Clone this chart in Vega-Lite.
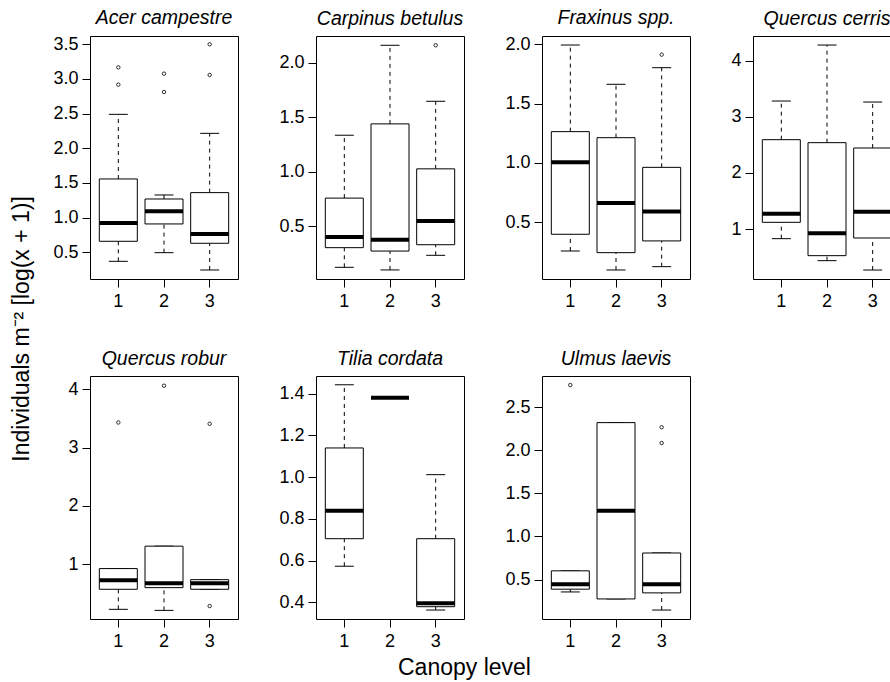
{
  "$schema": "https://vega.github.io/schema/vega-lite/v6.json",
  "padding": {"left": 11, "top": 7, "right": 0, "bottom": 4},
  "title": {"text": "Canopy level", "orient": "bottom", "anchor": "middle", "fontSize": 23, "offset": 6, "dx": 8},
  "datasets": {
    "rows": [
      {"sp": "Acer campestre", "level": 1, "lo": 0.37, "q1": 0.659, "med": 0.923, "q3": 1.558, "hi": 2.49},
      {"sp": "Acer campestre", "level": 1, "out": 3.168},
      {"sp": "Acer campestre", "level": 1, "out": 2.918},
      {"sp": "Acer campestre", "level": 2, "lo": 0.495, "q1": 0.909, "med": 1.091, "q3": 1.269, "hi": 1.327},
      {"sp": "Acer campestre", "level": 2, "out": 3.077},
      {"sp": "Acer campestre", "level": 2, "out": 2.812},
      {"sp": "Acer campestre", "level": 3, "lo": 0.245, "q1": 0.63, "med": 0.764, "q3": 1.361, "hi": 2.216},
      {"sp": "Acer campestre", "level": 3, "out": 3.5},
      {"sp": "Acer campestre", "level": 3, "out": 3.058},
      {"sp": "Carpinus betulus", "level": 1, "lo": 0.125, "q1": 0.305, "med": 0.402, "q3": 0.759, "hi": 1.335},
      {"sp": "Carpinus betulus", "level": 2, "lo": 0.101, "q1": 0.274, "med": 0.378, "q3": 1.439, "hi": 2.159},
      {"sp": "Carpinus betulus", "level": 3, "lo": 0.235, "q1": 0.332, "med": 0.549, "q3": 1.027, "hi": 1.646},
      {"sp": "Carpinus betulus", "level": 3, "out": 2.159},
      {"sp": "Fraxinus spp.", "level": 1, "lo": 0.258, "q1": 0.399, "med": 1.006, "q3": 1.264, "hi": 1.994},
      {"sp": "Fraxinus spp.", "level": 2, "lo": 0.098, "q1": 0.244, "med": 0.663, "q3": 1.213, "hi": 1.663},
      {"sp": "Fraxinus spp.", "level": 3, "lo": 0.126, "q1": 0.343, "med": 0.59, "q3": 0.963, "hi": 1.803},
      {"sp": "Fraxinus spp.", "level": 3, "out": 1.913},
      {"sp": "Quercus cerris", "level": 1, "lo": 0.828, "q1": 1.119, "med": 1.273, "q3": 2.592, "hi": 3.281},
      {"sp": "Quercus cerris", "level": 2, "lo": 0.436, "q1": 0.525, "med": 0.923, "q3": 2.539, "hi": 4.279},
      {"sp": "Quercus cerris", "level": 3, "lo": 0.269, "q1": 0.84, "med": 1.309, "q3": 2.444, "hi": 3.263},
      {"sp": "Quercus robur", "level": 1, "lo": 0.226, "q1": 0.57, "med": 0.725, "q3": 0.925, "hi": 0.925},
      {"sp": "Quercus robur", "level": 1, "out": 3.432},
      {"sp": "Quercus robur", "level": 2, "lo": 0.208, "q1": 0.598, "med": 0.673, "q3": 1.31, "hi": 1.31},
      {"sp": "Quercus robur", "level": 2, "out": 4.063},
      {"sp": "Quercus robur", "level": 3, "lo": 0.57, "q1": 0.57, "med": 0.673, "q3": 0.735, "hi": 0.735},
      {"sp": "Quercus robur", "level": 3, "out": 3.41},
      {"sp": "Quercus robur", "level": 3, "out": 0.282},
      {"sp": "Tilia cordata", "level": 1, "lo": 0.573, "q1": 0.705, "med": 0.839, "q3": 1.14, "hi": 1.443},
      {"sp": "Tilia cordata", "level": 2, "lo": 1.381, "q1": 1.381, "med": 1.381, "q3": 1.381, "hi": 1.381},
      {"sp": "Tilia cordata", "level": 3, "lo": 0.363, "q1": 0.379, "med": 0.395, "q3": 0.705, "hi": 1.012},
      {"sp": "Ulmus laevis", "level": 1, "lo": 0.356, "q1": 0.388, "med": 0.446, "q3": 0.601, "hi": 0.601},
      {"sp": "Ulmus laevis", "level": 1, "out": 2.757},
      {"sp": "Ulmus laevis", "level": 2, "lo": 0.275, "q1": 0.275, "med": 1.298, "q3": 2.321, "hi": 2.321},
      {"sp": "Ulmus laevis", "level": 3, "lo": 0.146, "q1": 0.345, "med": 0.446, "q3": 0.808, "hi": 0.808},
      {"sp": "Ulmus laevis", "level": 3, "out": 2.267},
      {"sp": "Ulmus laevis", "level": 3, "out": 2.084}
    ]
  },
  "vconcat": [
    {
      "title": {"text": "Individuals m⁻² [log(x + 1)]", "orient": "left", "anchor": "middle", "fontSize": 23, "offset": 18},
      "columns": 4,
      "spacing": {"row": 37, "column": 39},
      "align": "each",
      "concat": [
        {
          "title": {"text": "Acer campestre", "fontStyle": "italic", "fontSize": 19.5, "anchor": "middle", "frame": "group", "offset": 7},
          "width": 148, "height": 243,
          "data": {"name": "rows"},
          "transform": [{"filter": {"field": "sp", "equal": "Acer campestre"}}],
          "encoding": {"x": {"field": "level", "type": "ordinal", "title": null, "scale": {"paddingInner": 0, "paddingOuter": 0.12}}},
          "layer": [
            {"mark": {"type": "rule", "strokeDash": [4, 4], "color": "black"}, "encoding": {"y": {"field": "q3", "type": "quantitative", "title": null, "scale": {"domain": [0.115, 3.62], "nice": false, "zero": false}, "axis": {"values": [0.5, 1, 1.5, 2, 2.5, 3, 3.5], "format": ".1f"}}, "y2": {"field": "hi"}}},
            {"mark": {"type": "rule", "strokeDash": [4, 4], "color": "black"}, "encoding": {"y": {"field": "lo", "type": "quantitative", "title": null}, "y2": {"field": "q1"}}},
            {"mark": {"type": "tick", "size": 19, "thickness": 1, "color": "black", "opacity": 1}, "encoding": {"y": {"field": "hi", "type": "quantitative", "title": null}}},
            {"mark": {"type": "tick", "size": 19, "thickness": 1, "color": "black", "opacity": 1}, "encoding": {"y": {"field": "lo", "type": "quantitative", "title": null}}},
            {"mark": {"type": "bar", "width": 38, "fill": "white", "stroke": "black", "strokeWidth": 1}, "encoding": {"y": {"field": "q1", "type": "quantitative", "title": null}, "y2": {"field": "q3"}}},
            {"mark": {"type": "tick", "size": 38, "thickness": 4, "color": "black", "opacity": 1}, "encoding": {"y": {"field": "med", "type": "quantitative", "title": null}}},
            {"mark": {"type": "point", "shape": "circle", "size": 12, "filled": false, "color": "black", "strokeWidth": 0.8, "opacity": 1}, "encoding": {"y": {"field": "out", "type": "quantitative", "title": null}}}
          ]
        },
        {
          "title": {"text": "Carpinus betulus", "fontStyle": "italic", "fontSize": 19.5, "anchor": "middle", "frame": "group", "offset": 7},
          "width": 148, "height": 243,
          "data": {"name": "rows"},
          "transform": [{"filter": {"field": "sp", "equal": "Carpinus betulus"}}],
          "encoding": {"x": {"field": "level", "type": "ordinal", "title": null, "scale": {"paddingInner": 0, "paddingOuter": 0.12}}},
          "layer": [
            {"mark": {"type": "rule", "strokeDash": [4, 4], "color": "black"}, "encoding": {"y": {"field": "q3", "type": "quantitative", "title": null, "scale": {"domain": [0.018, 2.244], "nice": false, "zero": false}, "axis": {"values": [0.5, 1, 1.5, 2], "format": ".1f"}}, "y2": {"field": "hi"}}},
            {"mark": {"type": "rule", "strokeDash": [4, 4], "color": "black"}, "encoding": {"y": {"field": "lo", "type": "quantitative", "title": null}, "y2": {"field": "q1"}}},
            {"mark": {"type": "tick", "size": 19, "thickness": 1, "color": "black", "opacity": 1}, "encoding": {"y": {"field": "hi", "type": "quantitative", "title": null}}},
            {"mark": {"type": "tick", "size": 19, "thickness": 1, "color": "black", "opacity": 1}, "encoding": {"y": {"field": "lo", "type": "quantitative", "title": null}}},
            {"mark": {"type": "bar", "width": 38, "fill": "white", "stroke": "black", "strokeWidth": 1}, "encoding": {"y": {"field": "q1", "type": "quantitative", "title": null}, "y2": {"field": "q3"}}},
            {"mark": {"type": "tick", "size": 38, "thickness": 4, "color": "black", "opacity": 1}, "encoding": {"y": {"field": "med", "type": "quantitative", "title": null}}},
            {"mark": {"type": "point", "shape": "circle", "size": 12, "filled": false, "color": "black", "strokeWidth": 0.8, "opacity": 1}, "encoding": {"y": {"field": "out", "type": "quantitative", "title": null}}}
          ]
        },
        {
          "title": {"text": "Fraxinus spp.", "fontStyle": "italic", "fontSize": 19.5, "anchor": "middle", "frame": "group", "offset": 7},
          "width": 148, "height": 243,
          "data": {"name": "rows"},
          "transform": [{"filter": {"field": "sp", "equal": "Fraxinus spp."}}],
          "encoding": {"x": {"field": "level", "type": "ordinal", "title": null, "scale": {"paddingInner": 0, "paddingOuter": 0.12}}},
          "layer": [
            {"mark": {"type": "rule", "strokeDash": [4, 4], "color": "black"}, "encoding": {"y": {"field": "q3", "type": "quantitative", "title": null, "scale": {"domain": [0.022, 2.07], "nice": false, "zero": false}, "axis": {"values": [0.5, 1, 1.5, 2], "format": ".1f"}}, "y2": {"field": "hi"}}},
            {"mark": {"type": "rule", "strokeDash": [4, 4], "color": "black"}, "encoding": {"y": {"field": "lo", "type": "quantitative", "title": null}, "y2": {"field": "q1"}}},
            {"mark": {"type": "tick", "size": 19, "thickness": 1, "color": "black", "opacity": 1}, "encoding": {"y": {"field": "hi", "type": "quantitative", "title": null}}},
            {"mark": {"type": "tick", "size": 19, "thickness": 1, "color": "black", "opacity": 1}, "encoding": {"y": {"field": "lo", "type": "quantitative", "title": null}}},
            {"mark": {"type": "bar", "width": 38, "fill": "white", "stroke": "black", "strokeWidth": 1}, "encoding": {"y": {"field": "q1", "type": "quantitative", "title": null}, "y2": {"field": "q3"}}},
            {"mark": {"type": "tick", "size": 38, "thickness": 4, "color": "black", "opacity": 1}, "encoding": {"y": {"field": "med", "type": "quantitative", "title": null}}},
            {"mark": {"type": "point", "shape": "circle", "size": 12, "filled": false, "color": "black", "strokeWidth": 0.8, "opacity": 1}, "encoding": {"y": {"field": "out", "type": "quantitative", "title": null}}}
          ]
        },
        {
          "title": {"text": "Quercus cerris", "fontStyle": "italic", "fontSize": 19.5, "anchor": "middle", "frame": "group", "offset": 7},
          "width": 148, "height": 243,
          "data": {"name": "rows"},
          "transform": [{"filter": {"field": "sp", "equal": "Quercus cerris"}}],
          "encoding": {"x": {"field": "level", "type": "ordinal", "title": null, "scale": {"paddingInner": 0, "paddingOuter": 0.12}}},
          "layer": [
            {"mark": {"type": "rule", "strokeDash": [4, 4], "color": "black"}, "encoding": {"y": {"field": "q3", "type": "quantitative", "title": null, "scale": {"domain": [0.109, 4.44], "nice": false, "zero": false}, "axis": {"values": [1, 2, 3, 4], "format": "d"}}, "y2": {"field": "hi"}}},
            {"mark": {"type": "rule", "strokeDash": [4, 4], "color": "black"}, "encoding": {"y": {"field": "lo", "type": "quantitative", "title": null}, "y2": {"field": "q1"}}},
            {"mark": {"type": "tick", "size": 19, "thickness": 1, "color": "black", "opacity": 1}, "encoding": {"y": {"field": "hi", "type": "quantitative", "title": null}}},
            {"mark": {"type": "tick", "size": 19, "thickness": 1, "color": "black", "opacity": 1}, "encoding": {"y": {"field": "lo", "type": "quantitative", "title": null}}},
            {"mark": {"type": "bar", "width": 38, "fill": "white", "stroke": "black", "strokeWidth": 1}, "encoding": {"y": {"field": "q1", "type": "quantitative", "title": null}, "y2": {"field": "q3"}}},
            {"mark": {"type": "tick", "size": 38, "thickness": 4, "color": "black", "opacity": 1}, "encoding": {"y": {"field": "med", "type": "quantitative", "title": null}}},
            {"mark": {"type": "point", "shape": "circle", "size": 12, "filled": false, "color": "black", "strokeWidth": 0.8, "opacity": 1}, "encoding": {"y": {"field": "out", "type": "quantitative", "title": null}}}
          ]
        },
        {
          "title": {"text": "Quercus robur", "fontStyle": "italic", "fontSize": 19.5, "anchor": "middle", "frame": "group", "offset": 7},
          "width": 148, "height": 243,
          "data": {"name": "rows"},
          "transform": [{"filter": {"field": "sp", "equal": "Quercus robur"}}],
          "encoding": {"x": {"field": "level", "type": "ordinal", "title": null, "scale": {"paddingInner": 0, "paddingOuter": 0.12}}},
          "layer": [
            {"mark": {"type": "rule", "strokeDash": [4, 4], "color": "black"}, "encoding": {"y": {"field": "q3", "type": "quantitative", "title": null, "scale": {"domain": [0.06, 4.23], "nice": false, "zero": false}, "axis": {"values": [1, 2, 3, 4], "format": "d"}}, "y2": {"field": "hi"}}},
            {"mark": {"type": "rule", "strokeDash": [4, 4], "color": "black"}, "encoding": {"y": {"field": "lo", "type": "quantitative", "title": null}, "y2": {"field": "q1"}}},
            {"mark": {"type": "tick", "size": 19, "thickness": 1, "color": "black", "opacity": 1}, "encoding": {"y": {"field": "hi", "type": "quantitative", "title": null}}},
            {"mark": {"type": "tick", "size": 19, "thickness": 1, "color": "black", "opacity": 1}, "encoding": {"y": {"field": "lo", "type": "quantitative", "title": null}}},
            {"mark": {"type": "bar", "width": 38, "fill": "white", "stroke": "black", "strokeWidth": 1}, "encoding": {"y": {"field": "q1", "type": "quantitative", "title": null}, "y2": {"field": "q3"}}},
            {"mark": {"type": "tick", "size": 38, "thickness": 4, "color": "black", "opacity": 1}, "encoding": {"y": {"field": "med", "type": "quantitative", "title": null}}},
            {"mark": {"type": "point", "shape": "circle", "size": 12, "filled": false, "color": "black", "strokeWidth": 0.8, "opacity": 1}, "encoding": {"y": {"field": "out", "type": "quantitative", "title": null}}}
          ]
        },
        {
          "title": {"text": "Tilia cordata", "fontStyle": "italic", "fontSize": 19.5, "anchor": "middle", "frame": "group", "offset": 7},
          "width": 148, "height": 243,
          "data": {"name": "rows"},
          "transform": [{"filter": {"field": "sp", "equal": "Tilia cordata"}}],
          "encoding": {"x": {"field": "level", "type": "ordinal", "title": null, "scale": {"paddingInner": 0, "paddingOuter": 0.12}}},
          "layer": [
            {"mark": {"type": "rule", "strokeDash": [4, 4], "color": "black"}, "encoding": {"y": {"field": "q3", "type": "quantitative", "title": null, "scale": {"domain": [0.32, 1.485], "nice": false, "zero": false}, "axis": {"values": [0.4, 0.6, 0.8, 1, 1.2, 1.4], "format": ".1f"}}, "y2": {"field": "hi"}}},
            {"mark": {"type": "rule", "strokeDash": [4, 4], "color": "black"}, "encoding": {"y": {"field": "lo", "type": "quantitative", "title": null}, "y2": {"field": "q1"}}},
            {"mark": {"type": "tick", "size": 19, "thickness": 1, "color": "black", "opacity": 1}, "encoding": {"y": {"field": "hi", "type": "quantitative", "title": null}}},
            {"mark": {"type": "tick", "size": 19, "thickness": 1, "color": "black", "opacity": 1}, "encoding": {"y": {"field": "lo", "type": "quantitative", "title": null}}},
            {"mark": {"type": "bar", "width": 38, "fill": "white", "stroke": "black", "strokeWidth": 1}, "encoding": {"y": {"field": "q1", "type": "quantitative", "title": null}, "y2": {"field": "q3"}}},
            {"mark": {"type": "tick", "size": 38, "thickness": 4, "color": "black", "opacity": 1}, "encoding": {"y": {"field": "med", "type": "quantitative", "title": null}}},
            {"mark": {"type": "point", "shape": "circle", "size": 12, "filled": false, "color": "black", "strokeWidth": 0.8, "opacity": 1}, "encoding": {"y": {"field": "out", "type": "quantitative", "title": null}}}
          ]
        },
        {
          "title": {"text": "Ulmus laevis", "fontStyle": "italic", "fontSize": 19.5, "anchor": "middle", "frame": "group", "offset": 7},
          "width": 148, "height": 243,
          "data": {"name": "rows"},
          "transform": [{"filter": {"field": "sp", "equal": "Ulmus laevis"}}],
          "encoding": {"x": {"field": "level", "type": "ordinal", "title": null, "scale": {"paddingInner": 0, "paddingOuter": 0.12}}},
          "layer": [
            {"mark": {"type": "rule", "strokeDash": [4, 4], "color": "black"}, "encoding": {"y": {"field": "q3", "type": "quantitative", "title": null, "scale": {"domain": [0.042, 2.862], "nice": false, "zero": false}, "axis": {"values": [0.5, 1, 1.5, 2, 2.5], "format": ".1f"}}, "y2": {"field": "hi"}}},
            {"mark": {"type": "rule", "strokeDash": [4, 4], "color": "black"}, "encoding": {"y": {"field": "lo", "type": "quantitative", "title": null}, "y2": {"field": "q1"}}},
            {"mark": {"type": "tick", "size": 19, "thickness": 1, "color": "black", "opacity": 1}, "encoding": {"y": {"field": "hi", "type": "quantitative", "title": null}}},
            {"mark": {"type": "tick", "size": 19, "thickness": 1, "color": "black", "opacity": 1}, "encoding": {"y": {"field": "lo", "type": "quantitative", "title": null}}},
            {"mark": {"type": "bar", "width": 38, "fill": "white", "stroke": "black", "strokeWidth": 1}, "encoding": {"y": {"field": "q1", "type": "quantitative", "title": null}, "y2": {"field": "q3"}}},
            {"mark": {"type": "tick", "size": 38, "thickness": 4, "color": "black", "opacity": 1}, "encoding": {"y": {"field": "med", "type": "quantitative", "title": null}}},
            {"mark": {"type": "point", "shape": "circle", "size": 12, "filled": false, "color": "black", "strokeWidth": 0.8, "opacity": 1}, "encoding": {"y": {"field": "out", "type": "quantitative", "title": null}}}
          ]
        }
      ]
    }
  ],
  "config": {
    "font": "Liberation Sans",
    "background": "white",
    "view": {"stroke": "black", "strokeWidth": 1},
    "axis": {"grid": false, "domain": false, "ticks": true, "tickColor": "black", "tickSize": 8, "tickWidth": 1, "labelColor": "black", "labelFont": "Liberation Sans", "labelFontSize": 18, "labelPadding": 4},
    "axisX": {"labelAngle": 0, "labelPadding": 5},
    "title": {"font": "Liberation Sans", "fontWeight": "normal", "color": "black"}
  }
}
